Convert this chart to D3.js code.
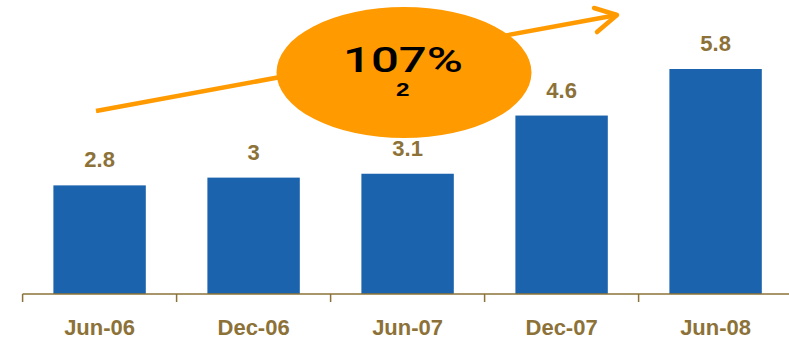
<!DOCTYPE html>
<html>
<head>
<meta charset="utf-8">
<script src="https://cdn.jsdelivr.net/npm/d3@7"></script>
<style>
  body { margin: 0; background: #fff; }
  svg { display: block; }
</style>
</head>
<body>
<svg id="chart"></svg>
<script>
const periods = ["Jun-06", "Dec-06", "Jun-07", "Dec-07", "Jun-08"];
const values = [2.8, 3, 3.1, 4.6, 5.8];
const growthLabel = "107%";
const growthNote = "2";

const width = 789, height = 341;
const brown = "#8c7238";
const blue = "#1b63ad";
const orange = "#ff9a00";

const svg = d3.select("#chart")
    .attr("width", width)
    .attr("height", height);

const x = d3.scaleBand()
    .domain(periods)
    .range([22.6, 792.6])
    .paddingInner(0.4)
    .paddingOuter(0.2);

const y = d3.scaleLinear()
    .domain([0, 5.8])
    .range([294, 69]);

// bars
svg.selectAll(".bar")
  .data(values)
  .join("rect")
    .attr("class", "bar")
    .attr("x", (d, i) => x(periods[i]))
    .attr("width", x.bandwidth())
    .attr("y", d => y(d))
    .attr("height", d => y(0) - y(d))
    .attr("fill", blue);

// value labels
svg.selectAll(".val")
  .data(values)
  .join("text")
    .attr("class", "val")
    .attr("x", (d, i) => x(periods[i]) + x.bandwidth() / 2)
    .attr("y", d => y(d) - 18)
    .attr("text-anchor", "middle")
    .attr("font-family", "Liberation Sans, Arial, sans-serif")
    .attr("font-weight", "bold")
    .attr("font-size", 22)
    .attr("fill", brown)
    .text(d => d);

// axis line + ticks at band edges
const step = x.step();
const edges = periods.map(p => x(p) - step * 0.2);
svg.append("line")
    .attr("x1", edges[0]).attr("x2", width)
    .attr("y1", y(0)).attr("y2", y(0))
    .attr("stroke", brown).attr("stroke-width", 1.5);
svg.selectAll(".tick")
  .data(edges)
  .join("line")
    .attr("class", "tick")
    .attr("x1", d => d).attr("x2", d => d)
    .attr("y1", y(0)).attr("y2", y(0) + 8)
    .attr("stroke", brown).attr("stroke-width", 1.5);

svg.selectAll(".cat")
  .data(periods)
  .join("text")
    .attr("class", "cat")
    .attr("x", d => x(d) + x.bandwidth() / 2)
    .attr("y", 335)
    .attr("text-anchor", "middle")
    .attr("font-family", "Liberation Sans, Arial, sans-serif")
    .attr("font-weight", "bold")
    .attr("font-size", 22)
    .attr("fill", brown)
    .text(d => d);

// growth arrow
svg.append("path")
    .attr("d", "M96,111 L617,15")
    .attr("stroke", orange).attr("stroke-width", 4.5)
    .attr("fill", "none");
svg.append("path")
    .attr("d", "M594,8 L617,15 L597,32")
    .attr("stroke", orange).attr("stroke-width", 4.5)
    .attr("stroke-linecap", "round").attr("stroke-linejoin", "round")
    .attr("fill", "none");

// bubble
svg.append("ellipse")
    .attr("cx", 404).attr("cy", 72.5)
    .attr("rx", 127.5).attr("ry", 65.5)
    .attr("fill", orange);

svg.append("text")
    .attr("x", 343).attr("y", 72)
    .attr("font-family", "Roboto, sans-serif")
    .attr("font-weight", 500)
    .attr("font-size", 35)
    .attr("textLength", 120)
    .attr("lengthAdjust", "spacingAndGlyphs")
    .attr("fill", "#000")
    .text(growthLabel);

svg.append("text")
    .attr("x", 396).attr("y", 96)
    .attr("font-family", "Liberation Sans, Arial, sans-serif")
    .attr("font-weight", "bold")
    .attr("font-size", 19)
    .attr("textLength", 13.5)
    .attr("lengthAdjust", "spacingAndGlyphs")
    .attr("fill", "#000")
    .text(growthNote);
</script>
</body>
</html>
